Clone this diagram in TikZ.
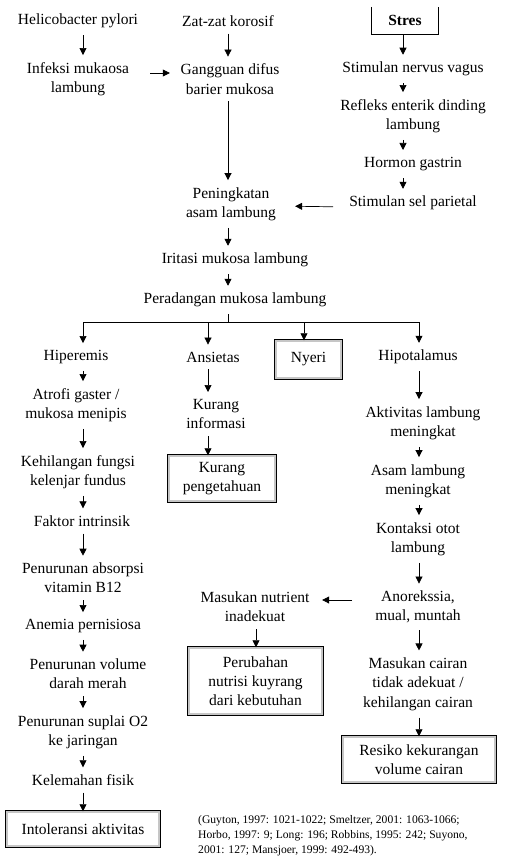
\documentclass[tikz,border=0pt]{standalone}
\usepackage{fontspec}
\setmainfont{Liberation Serif}
\usetikzlibrary{arrows.meta}
\tikzset{
  txt/.style={align=center, inner xsep=2pt, inner ysep=7pt,
    font=\fontsize{15.5}{19.3}\selectfont},
  dbox/.style={txt, draw, double=gray!45, double distance=2pt,
    line width=0.6pt, inner sep=0pt},
  arr/.style={-{Triangle[length=7pt,width=7pt]}, line width=0.7pt},
  lin/.style={line width=0.7pt},
}
\begin{document}
\begin{tikzpicture}[x=1pt,y=-1pt]
  \useasboundingbox (0,0) rectangle (516,867);
  % columns of the arrows
  \coordinate (colA) at (83,0);
  \coordinate (colB) at (228,0);
  \coordinate (colC) at (403,0);
  \coordinate (colD) at (208,0);
  \coordinate (colE) at (304,0);
  \coordinate (colF) at (419,0);
  \coordinate (colG) at (256,0);
  \coordinate (split) at (228,322);

  % top
  \node[txt] (hp) at (78,21) {Helicobacter pylori};
  \node[txt] (zat) at (228,21) {Zat-zat korosif};
  \node[txt, minimum width=66pt, minimum height=27pt, inner sep=0pt,
    font=\fontsize{15.5}{19.3}\selectfont\bfseries] (stres) at (405,20.5) {Stres};
  \node[txt] (inf) at (78,79) {Infeksi mukaosa\\lambung};
  \node[txt] (gang) at (230,79) {Gangguan difus\\barier mukosa};
  \node[txt] (vagus) at (413,69) {Stimulan nervus vagus};
  \node[txt] (refleks) at (413,116) {Refleks enterik dinding\\lambung};
  \node[txt] (gastrin) at (413,164) {Hormon gastrin};
  \node[txt] (parietal) at (413,203) {Stimulan sel parietal};
  \node[txt] (asam) at (231,204) {Peningkatan\\asam lambung};
  \node[txt] (iritasi) at (235,260) {Iritasi mukosa lambung};
  \node[txt] (perad) at (235,300) {Peradangan mukosa lambung};

  % branches
  \node[txt] (hiper) at (76,357) {Hiperemis};
  \node[txt] (ansie) at (213,357) {Ansietas};
  \node[dbox, minimum width=65.8pt, minimum height=37.8pt] (nyeri) at (308.5,359.5) {Nyeri};
  \node[txt] (hipo) at (418,357) {Hipotalamus};

  % left column
  \node[txt] (atrofi) at (76,405) {Atrofi gaster /\\mukosa menipis};
  \node[txt] (kehil) at (78,472) {Kehilangan fungsi\\kelenjar fundus};
  \node[txt] (faktor) at (82,521) {Faktor intrinsik};
  \node[txt] (absorpsi) at (83,578) {Penurunan absorpsi\\vitamin B12};
  \node[txt] (anemia) at (83,626) {Anemia pernisiosa};
  \node[txt] (volume) at (88,674) {Penurunan volume\\darah merah};
  \node[txt] (suplai) at (83,732) {Penurunan suplai O2\\ke jaringan};
  \node[txt] (lemah) at (83,780) {Kelemahan fisik};
  \node[dbox, minimum width=152.8pt, minimum height=34.8pt] (intol) at (83,829) {Intoleransi aktivitas};

  % middle column
  \node[txt] (kurinfo) at (216,414) {Kurang\\informasi};
  \node[dbox, minimum width=106.8pt, minimum height=45.8pt] (kurpeng) at (222,478.5) {Kurang\\pengetahuan};

  % right column
  \node[txt] (aktiv) at (423,423) {Aktivitas lambung\\meningkat};
  \node[txt] (asamm) at (418,481) {Asam lambung\\meningkat};
  \node[txt] (kontaksi) at (418,539) {Kontaksi otot\\lambung};
  \node[txt] (anorek) at (418,607) {Anorekssia,\\mual, muntah};
  \node[txt] (nutrient) at (255,607) {Masukan nutrient\\inadekuat};
  \node[dbox, minimum width=133.8pt, minimum height=66.8pt] (perub) at (255.5,681) {Perubahan\\nutrisi kuyrang\\dari kebutuhan};
  \node[txt] (cairan) at (418,684) {Masukan cairan\\tidak adekuat /\\kehilangan cairan};
  \node[dbox, minimum width=152.8pt, minimum height=45.8pt] (resiko) at (419,759.5) {Resiko kekurangan\\volume cairan};

  % source
  \node[align=left, anchor=north west, inner sep=0pt,
    font=\fontsize{11.6}{15}\selectfont] (sumber) at (198,815)
    {(Guyton, 1997: 1021-1022; Smeltzer, 2001: 1063-1066;\\
     Horbo, 1997: 9; Long: 196; Robbins, 1995: 242; Suyono,\\
     2001: 127; Mansjoer, 1999: 492-493).};

  % box of Stres, open at the top
  \draw[lin] (stres.north west) -- (stres.south west) -- (stres.south east) -- (stres.north east);

  % arrows top
  \draw[arr] (hp.south -| colA) -- (inf.north -| colA);
  \draw[arr] (zat.south -| colB) -- (gang.north -| colB);
  \draw[arr, shorten <=19pt, shorten >=8.7pt] ([yshift=6pt]inf.east) -- ([yshift=6pt]gang.west);
  \draw[arr] (stres.south -| colC) -- (vagus.north -| colC);
  \draw[arr] (vagus.south -| colC) -- (refleks.north -| colC);
  \draw[arr] (refleks.south -| colC) -- (gastrin.north -| colC);
  \draw[arr] (gastrin.south -| colC) -- (parietal.north -| colC);
  \draw[arr, shorten <=14pt, shorten >=17pt] ([yshift=-4pt]parietal.west) -- ([yshift=-2pt]asam.east);
  \draw[arr] (gang.south -| colB) -- (asam.north -| colB);
  \draw[arr] (asam.south -| colB) -- (iritasi.north -| colB);
  \draw[arr] (iritasi.south -| colB) -- (perad.north -| colB);

  % split
  \draw[lin] (perad.south -| colB) -- (split);
  \draw[lin] (split -| colA) -- (split -| colF);
  \draw[arr] (split -| colA) -- (hiper.north -| colA);
  \draw[arr] (split -| colD) -- (ansie.north -| colD);
  \draw[arr] (split -| colE) -- (nyeri.north -| colE);
  \draw[arr] (split -| colF) -- (hipo.north -| colF);

  % left
  \draw[arr] (hiper.south -| colA) -- (atrofi.north -| colA);
  \draw[arr] (atrofi.south -| colA) -- (kehil.north -| colA);
  \draw[arr] (kehil.south -| colA) -- (faktor.north -| colA);
  \draw[arr] (faktor.south -| colA) -- (absorpsi.north -| colA);
  \draw[arr] (absorpsi.south -| colA) -- (anemia.north -| colA);
  \draw[arr] (anemia.south -| colA) -- (volume.north -| colA);
  \draw[arr] (volume.south -| colA) -- (suplai.north -| colA);
  \draw[arr] (suplai.south -| colA) -- (lemah.north -| colA);
  \draw[arr] (lemah.south -| colA) -- (intol.north -| colA);

  % middle
  \draw[arr] (ansie.south -| colD) -- (kurinfo.north -| colD);
  \draw[arr] (kurinfo.south -| colD) -- (kurpeng.north -| colD);

  % right
  \draw[arr] (hipo.south -| colF) -- (aktiv.north -| colF);
  \draw[arr] (aktiv.south -| colF) -- (asamm.north -| colF);
  \draw[arr] (asamm.south -| colF) -- (kontaksi.north -| colF);
  \draw[arr] (kontaksi.south -| colF) -- (anorek.north -| colF);
  \draw[arr, shorten <=21pt, shorten >=10.5pt] ([yshift=7pt]anorek.west) -- ([yshift=7pt]nutrient.east);
  \draw[arr] (nutrient.south -| colG) -- (perub.north -| colG);
  \draw[arr] (anorek.south -| colF) -- (cairan.north -| colF);
  \draw[arr] (cairan.south -| colF) -- (resiko.north -| colF);
\end{tikzpicture}
\end{document}
